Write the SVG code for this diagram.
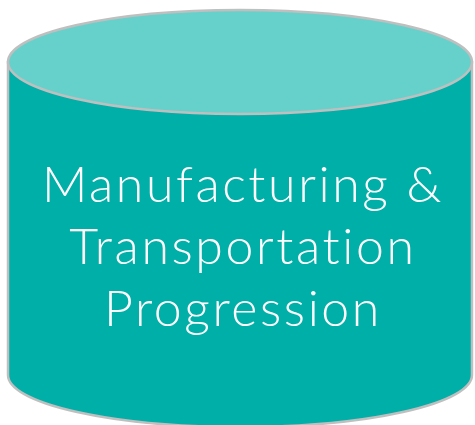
<svg xmlns="http://www.w3.org/2000/svg" width="475" height="425" viewBox="0 0 475 425">
<style>
.edge{stroke:#BFBFBF;stroke-width:2.5}
.lbl{font-family:Lato,"Open Sans","Liberation Sans",sans-serif;font-weight:300;font-size:50px;letter-spacing:2.6px;font-variant-ligatures:none;fill:#FFFFFF;text-anchor:middle}
</style>
<rect width="475" height="425" fill="#FFFFFF"/>
<g id="cylinder">
<path class="edge" d="M8,62 L8,375 A232,52 0 0 0 472,375 L472,62 Z" fill="#00AFA8"/>
<ellipse class="edge" cx="240" cy="62" rx="232" ry="52" fill="#66D1CA"/>
<text class="lbl" x="243" y="202">Manufacturing &amp;</text>
<text class="lbl" x="243" y="264">Transportation</text>
<text class="lbl" x="243" y="326">Progression</text>
</g>
</svg>
